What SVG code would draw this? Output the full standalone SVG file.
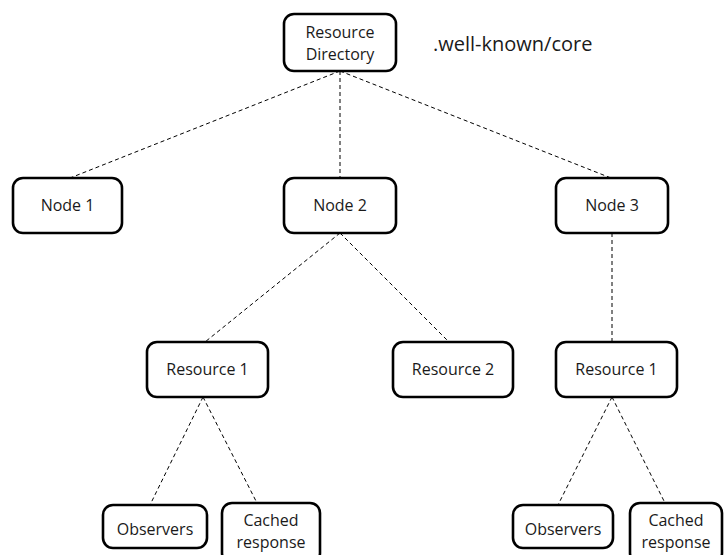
<svg xmlns="http://www.w3.org/2000/svg" width="726" height="555" viewBox="0 0 726 555">
  <style>
    .box { fill: #ffffff; stroke: #000000; stroke-width: 2.6; }
    .lbl { font-family: "Open Sans", "Liberation Sans", sans-serif; font-size: 16px; fill: #1a1a1a; text-anchor: middle; }
    .note { font-family: "Open Sans", "Liberation Sans", sans-serif; font-size: 20px; fill: #1a1a1a; }
    .link { stroke: #000000; stroke-width: 1; stroke-dasharray: 4 3; fill: none; }
  </style>
  <rect width="726" height="555" fill="#ffffff"/>

  <g id="connectors">
    <line class="link" x1="340" y1="71" x2="70" y2="178"/>
    <line class="link" x1="340" y1="71" x2="340" y2="178"/>
    <line class="link" x1="340" y1="71" x2="611" y2="178"/>
    <line class="link" x1="340" y1="233" x2="205" y2="342"/>
    <line class="link" x1="340" y1="233" x2="449" y2="342"/>
    <line class="link" x1="612" y1="233" x2="612" y2="342"/>
    <line class="link" x1="203" y1="397" x2="150" y2="505"/>
    <line class="link" x1="203" y1="397" x2="257" y2="503"/>
    <line class="link" x1="612" y1="397" x2="558" y2="505"/>
    <line class="link" x1="612" y1="397" x2="665" y2="503"/>
  </g>

  <g id="resource-directory">
    <rect class="box" x="284" y="14" width="112" height="57" rx="10"/>
    <text class="lbl" x="340" y="38">Resource</text>
    <text class="lbl" x="340" y="60">Directory</text>
  </g>
  <text class="note" x="433" y="51">.well-known/core</text>

  <g id="node1">
    <rect class="box" x="13" y="178" width="109" height="55" rx="10"/>
    <text class="lbl" x="67.5" y="211">Node 1</text>
  </g>
  <g id="node2">
    <rect class="box" x="284" y="178" width="112" height="55" rx="10"/>
    <text class="lbl" x="340" y="211">Node 2</text>
  </g>
  <g id="node3">
    <rect class="box" x="556" y="178" width="112" height="55" rx="10"/>
    <text class="lbl" x="612" y="211">Node 3</text>
  </g>

  <g id="node2-resource1">
    <rect class="box" x="147" y="342" width="121" height="55" rx="10"/>
    <text class="lbl" x="207.5" y="375">Resource 1</text>
  </g>
  <g id="node2-resource2">
    <rect class="box" x="393" y="342" width="120" height="55" rx="10"/>
    <text class="lbl" x="453" y="375">Resource 2</text>
  </g>
  <g id="node3-resource1">
    <rect class="box" x="556" y="342" width="121" height="55" rx="10"/>
    <text class="lbl" x="616.5" y="375">Resource 1</text>
  </g>

  <g id="observers-left">
    <rect class="box" x="103" y="505" width="104" height="43" rx="10"/>
    <text class="lbl" x="155" y="535">Observers</text>
  </g>
  <g id="cached-left">
    <rect class="box" x="222" y="503" width="98" height="60" rx="10"/>
    <text class="lbl" x="271" y="526">Cached</text>
    <text class="lbl" x="271" y="548">response</text>
  </g>
  <g id="observers-right">
    <rect class="box" x="513" y="505" width="100" height="43" rx="10"/>
    <text class="lbl" x="563" y="535">Observers</text>
  </g>
  <g id="cached-right">
    <rect class="box" x="630" y="503" width="92" height="60" rx="10"/>
    <text class="lbl" x="676" y="526">Cached</text>
    <text class="lbl" x="676" y="548">response</text>
  </g>
</svg>
